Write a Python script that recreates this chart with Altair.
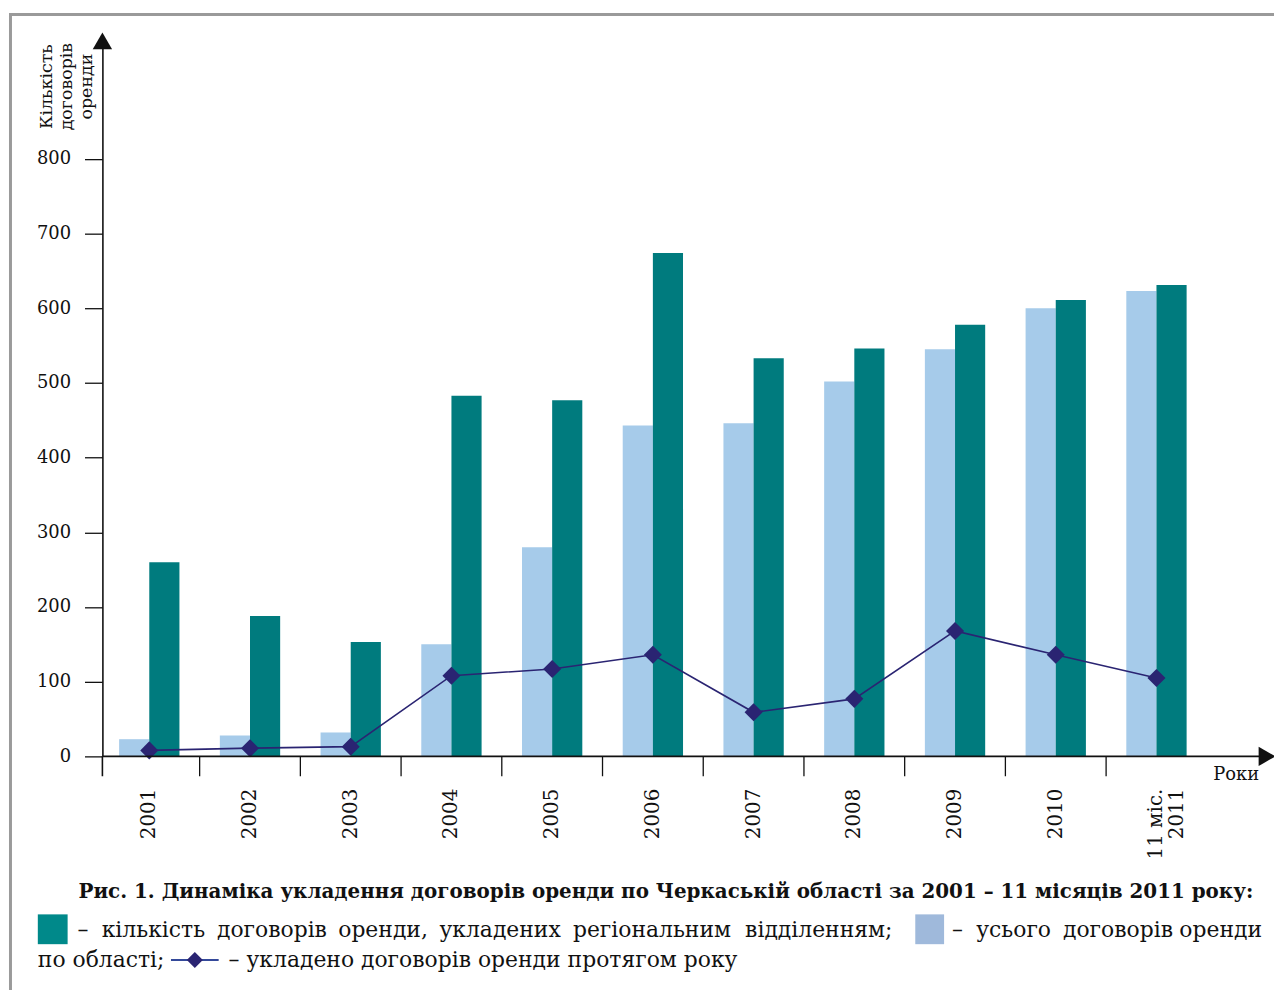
import altair as alt
import pandas as pd

# ---- data ----
years = ["2001", "2002", "2003", "2004", "2005", "2006", "2007", "2008", "2009", "2010", "11 міс.|2011"]
regional_office = [260, 188, 153, 483, 477, 674, 533, 546, 578, 611, 631]   # teal bars
oblast_total = [23, 28, 32, 150, 280, 443, 446, 502, 545, 600, 623]          # light bars
concluded_in_year = [8, 11, 13, 108, 117, 136, 59, 77, 168, 136, 105]        # line
y_ticks = [0, 100, 200, 300, 400, 500, 600, 700, 800]

y_title = ["Кількість", "договорів", "оренди"]
x_title = "Роки"
caption = "Рис. 1. Динаміка укладення договорів оренди по Черкаській області за 2001 – 11 місяців 2011 року:"
legend_teal_words = ["–", "кількість", "договорів", "оренди,", "укладених", "регіональним", "відділенням;"]
legend_light_words = ["–", "усього", "договорів", "оренди"]
legend_line_pre = "по області;"
legend_line = "– укладено договорів оренди протягом року"

TEAL = "#007b7e"
LIGHT = "#a6cbea"
NAVY = "#2a2472"
FONT = "DejaVu Serif"

W, H = 1122, 723

bars_df = pd.DataFrame(
    [{"year": y, "series": "a_total", "value": v} for y, v in zip(years, oblast_total)]
    + [{"year": y, "series": "b_regional", "value": v} for y, v in zip(years, regional_office)]
)
line_df = pd.DataFrame({"year": years, "value": concluded_in_year})
ticks_df = pd.DataFrame({"year": years[1:]})

x_scale = alt.Scale(paddingInner=0, paddingOuter=0, range=[-3.5, 1111.4])
y_scale = alt.Scale(domain=[0, 962], nice=False, zero=True)

bars = alt.Chart(bars_df).mark_bar().encode(
    x=alt.X("year:N", sort=years, scale=x_scale,
            axis=alt.Axis(title=None, ticks=False, domain=False, labelAngle=-90,
                          labelPadding=32, labelFont=FONT, labelFontSize=20,
                          labelColor="#111", labelExpr="split(datum.value, '|')",
                          labelLineHeight=21)),
    xOffset=alt.XOffset("series:N", sort=["a_total", "b_regional"],
                        scale=alt.Scale(paddingInner=0, paddingOuter=0.67)),
    y=alt.Y("value:Q", scale=y_scale,
            axis=alt.Axis(title=None, values=y_ticks, grid=False, domainColor="#111",
                          domainWidth=1.6, tickColor="#111", tickSize=18, tickWidth=1.3,
                          labelFont=FONT, labelFontSize=18, labelColor="#111",
                          labelPadding=14)),
    color=alt.Color("series:N", scale=alt.Scale(domain=["a_total", "b_regional"],
                                                range=[LIGHT, TEAL]), legend=None),
)

line = alt.Chart(line_df).mark_line(color=NAVY, strokeWidth=1.6).encode(
    x=alt.X("year:N", sort=years),
    y=alt.Y("value:Q"),
)
points = alt.Chart(line_df).mark_point(shape="diamond", filled=True, size=330,
                                       color=NAVY, opacity=1).encode(
    x=alt.X("year:N", sort=years),
    y=alt.Y("value:Q"),
)

xticks = alt.Chart(ticks_df).mark_rule(color="#111", strokeWidth=1.3).encode(
    x=alt.X("year:N", sort=years, bandPosition=0),
    y=alt.value(H), y2=alt.value(H + 20),
)

one = pd.DataFrame({"k": [0]})

y_axis_ext = alt.Chart(one).mark_rule(color="#111", strokeWidth=1.6).encode(
    x=alt.value(0), y=alt.value(H), y2=alt.value(H + 20))
x_axis_line = alt.Chart(one).mark_rule(color="#111", strokeWidth=1.6).encode(
    x=alt.value(0), x2=alt.value(1170), y=alt.value(H))
x_arrow = alt.Chart(one).mark_point(shape="triangle-right", filled=True, size=380,
                                    color="#111", opacity=1).encode(
    x=alt.value(1172), y=alt.value(H))
y_arrow = alt.Chart(one).mark_point(shape="triangle-up", filled=True, size=380,
                                    color="#111", opacity=1).encode(
    x=alt.value(0), y=alt.value(3))

frame = alt.Chart(one).mark_rect(filled=False, stroke="#9a9a9a", strokeWidth=3).encode(
    x=alt.value(-92.5), y=alt.value(-23.5), x2=alt.value(1300), y2=alt.value(1000))


def text(t, x, y, size=22, align="left", weight="normal", angle=0, baseline="middle"):
    return alt.Chart(pd.DataFrame({"t": [t]})).mark_text(
        font=FONT, fontSize=size, align=align, baseline=baseline,
        fontWeight=weight, color="#111", angle=angle).encode(
        text="t:N", x=alt.value(x), y=alt.value(y))


ytitle = alt.Chart(pd.DataFrame({"t": [y_title]})).mark_text(
    font=FONT, fontSize=17.5, align="center", baseline="middle", angle=270,
    lineHeight=20.5, color="#111").encode(text="t", x=alt.value(-56), y=alt.value(49))

xtitle = text(x_title, 1141, 742, size=18, align="center")
cap = text(caption, 567, 860, size=20, align="center", weight="bold")

LEG1_Y, LEG2_Y = 898, 928
OX = 103  # plot-area left edge on the page, to turn page x into layer x
teal_pos = [(78, "left"), (154.3, "center"), (273.6, "center"), (385.4, "center"),
            (503.2, "center"), (656, "center"), (898, "right")]
light_pos = [(958, "left"), (1020, "center"), (1125, "center"), (1270, "right")]

legend_texts = []
for w, (px, al) in zip(legend_teal_words, teal_pos):
    legend_texts.append(text(w, px - OX, LEG1_Y, align=al))
for w, (px, al) in zip(legend_light_words, light_pos):
    legend_texts.append(text(w, px - OX, LEG1_Y, align=al))
legend_texts.append(text(legend_line_pre, 38 - OX, LEG2_Y, align="left"))
legend_texts.append(text(legend_line, 230 - OX, LEG2_Y, align="left"))

sw_teal = alt.Chart(one).mark_rect(color="#00898a").encode(
    x=alt.value(-65), x2=alt.value(-35), y=alt.value(882), y2=alt.value(912))
sw_light = alt.Chart(one).mark_rect(color="#9fb9db").encode(
    x=alt.value(818), x2=alt.value(847), y=alt.value(882), y2=alt.value(912))
sw_line = alt.Chart(one).mark_rule(color="#34499a", strokeWidth=2).encode(
    x=alt.value(69), x2=alt.value(117), y=alt.value(LEG2_Y))
sw_pt = alt.Chart(one).mark_point(shape="diamond", filled=True, size=260, color=NAVY,
                                  opacity=1).encode(x=alt.value(93), y=alt.value(LEG2_Y))

chart = alt.layer(
    frame, bars, line, points, xticks, y_axis_ext, x_axis_line, x_arrow, y_arrow,
    ytitle, xtitle, cap, *legend_texts,
    sw_teal, sw_light, sw_line, sw_pt
).properties(
    width=W, height=H,
    padding={"left": 95, "top": 27, "right": 57, "bottom": 232},
    autosize=alt.AutoSizeParams(type="none"),
).configure_view(stroke=None)

chart.save("out.html", embed_options={"renderer": "svg", "actions": False})
